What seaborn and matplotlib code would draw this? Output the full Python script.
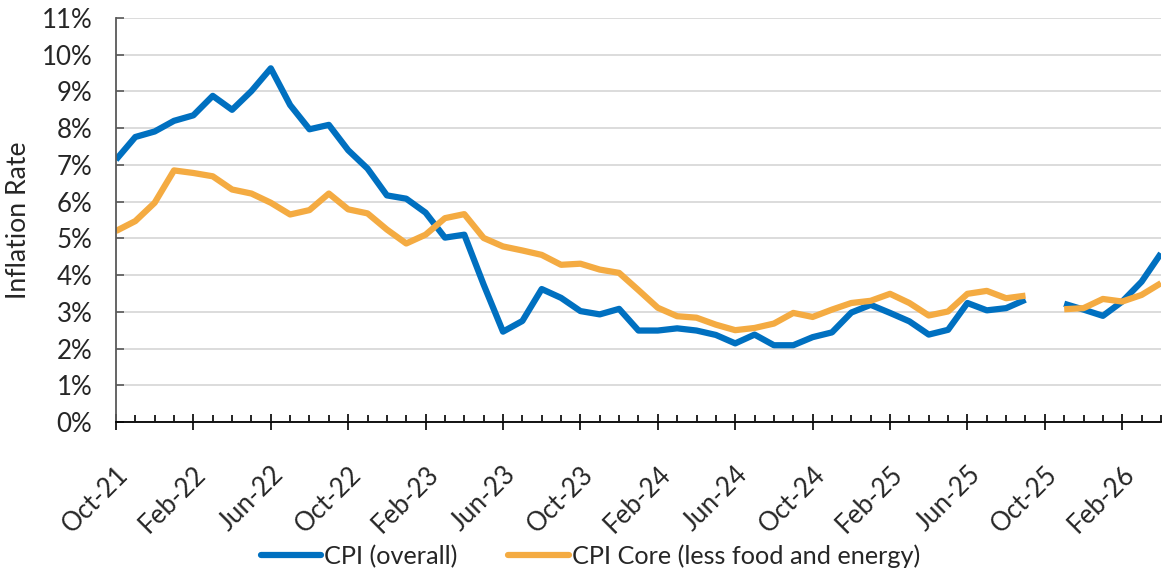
import numpy as np
import pandas as pd
import matplotlib
matplotlib.use('Agg')
import matplotlib.pyplot as plt
import seaborn as sns
from matplotlib.ticker import MultipleLocator, PercentFormatter

# monthly readings, Oct-21 .. Apr-26 (Oct-25 missing)
cpi = [7.14, 7.76, 7.91, 8.20, 8.35, 8.88, 8.50, 9.01, 9.63, 8.63,
       7.97, 8.09, 7.40, 6.90, 6.17, 6.08, 5.70, 5.02, 5.10, 3.74,
       2.46, 2.75, 3.62, 3.38, 3.02, 2.93, 3.08, 2.49, 2.49, 2.55,
       2.49, 2.37, 2.14, 2.38, 2.09, 2.09, 2.31, 2.44, 2.98, 3.19,
       2.97, 2.74, 2.38, 2.51, 3.24, 3.04, 3.10, 3.33, np.nan,
       3.22, 3.06, 2.89, 3.28, 3.82, 4.59]
core = [5.20, 5.47, 5.97, 6.85, 6.78, 6.69, 6.33, 6.22, 5.97, 5.65,
        5.77, 6.22, 5.79, 5.68, 5.24, 4.86, 5.10, 5.55, 5.66, 5.01,
        4.78, 4.67, 4.55, 4.28, 4.31, 4.15, 4.06, 3.59, 3.11, 2.88,
        2.84, 2.65, 2.50, 2.56, 2.68, 2.97, 2.86, 3.06, 3.24, 3.30,
        3.49, 3.24, 2.90, 3.01, 3.49, 3.57, 3.37, 3.44, np.nan,
        3.07, 3.10, 3.35, 3.28, 3.46, 3.78]
tick_labels = ['Oct-21', 'Feb-22', 'Jun-22', 'Oct-22', 'Feb-23', 'Jun-23', 'Oct-23',
               'Feb-24', 'Jun-24', 'Oct-24', 'Feb-25', 'Jun-25', 'Oct-25', 'Feb-26']
series_names = ['CPI (overall)', 'CPI Core (less food and energy)']
colors = ['#0070C0', '#F4AB42']

month = np.arange(len(cpi))
wide = pd.DataFrame({'month': month, series_names[0]: cpi, series_names[1]: core})
wide['segment'] = np.where(wide[series_names[0]].isna().cumsum() > 0, 1, 0)
df = wide.melt(id_vars=['month', 'segment'], var_name='series', value_name='rate').dropna()

sns.set_style('white')
plt.rcParams['font.family'] = ['Lato', 'DejaVu Sans']
fs = 18.6

fig = plt.figure(figsize=(11.62, 5.75), dpi=100)
ax = fig.add_axes([0.0998, 0.2661, 0.8993, 0.7026])

ax.yaxis.grid(True, color='#D9D9D9', linewidth=1.3)
ax.set_axisbelow(True)

sns.lineplot(data=df, x='month', y='rate', hue='series', units='segment', estimator=None,
             palette=colors, linewidth=4.5, ax=ax, legend=True, sort=True)
for ln in ax.lines:
    ln.set_solid_capstyle('butt')
    ln.set_solid_joinstyle('round')

ax.set_xlim(0, len(cpi) - 1)
ax.set_ylim(0, 11)
ax.yaxis.set_major_locator(MultipleLocator(1))
ax.yaxis.set_major_formatter(PercentFormatter(decimals=0))
ax.set_xticks(np.arange(0, len(cpi), 4))
ax.set_xticklabels(tick_labels, rotation=45, ha='right', rotation_mode='anchor')
ax.xaxis.set_minor_locator(MultipleLocator(1))

ax.tick_params(axis='y', direction='in', length=6, width=1.2, color='#595959',
               labelsize=fs, pad=17, left=True)
ax.tick_params(axis='x', which='major', direction='inout', length=11, width=1.2,
               color='black', labelsize=fs, pad=23, bottom=True)
ax.tick_params(axis='x', which='minor', direction='in', length=5, width=1.2,
               color='black', bottom=True)

for s in ['top', 'right']:
    ax.spines[s].set_visible(False)
ax.spines['left'].set_color('#595959')
ax.spines['left'].set_linewidth(1.3)
ax.spines['bottom'].set_color('black')
ax.spines['bottom'].set_linewidth(1.3)

ax.set_xlabel('')
ax.set_ylabel('Inflation Rate', fontsize=19.2)
ax.yaxis.set_label_coords(-0.081, 0.5)

handles, labels = ax.get_legend_handles_labels()
ax.get_legend().remove()
leg = fig.legend(handles, labels, loc='center', bbox_to_anchor=(0.508, 0.033), ncol=2,
                 frameon=False, fontsize=18.2, handlelength=2.4, handletextpad=0.12,
                 columnspacing=2.0)
for h in leg.get_lines():
    h.set_linewidth(4.5)
    h.set_solid_capstyle('round')

fig.savefig('out.png', dpi=100)
